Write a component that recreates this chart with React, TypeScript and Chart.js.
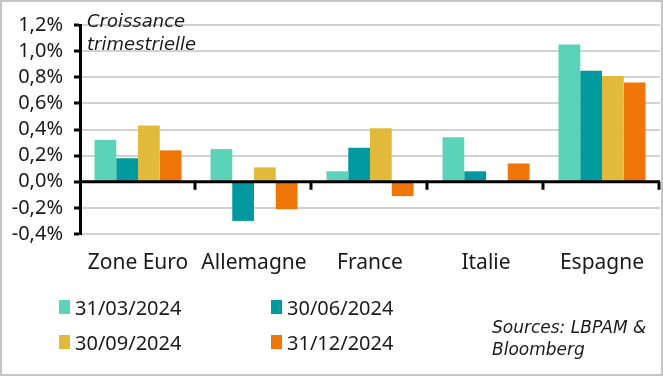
import React, { useEffect, useRef } from "react";
import { Chart, registerables } from "chart.js";

Chart.register(...registerables);

const categories = ["Zone Euro", "Allemagne", "France", "Italie", "Espagne"];
const seriesLabels = ["31/03/2024", "30/06/2024", "30/09/2024", "31/12/2024"];
const q1Values = [0.32, 0.25, 0.08, 0.34, 1.05];
const q2Values = [0.18, -0.3, 0.26, 0.08, 0.85];
const q3Values = [0.43, 0.11, 0.41, 0.01, 0.81];
const q4Values = [0.24, -0.21, -0.11, 0.14, 0.76];
const seriesColors = ["#5BD3B9", "#00999F", "#E1BA3C", "#F07507"];
const yMin = -0.4;
const yMax = 1.2;
const yStep = 0.2;
const titleLines = ["Croissance", "trimestrielle"];
const sourceLines = ["Sources: LBPAM &", "Bloomberg"];

const FONT = "'Noto Sans', 'DejaVu Sans', sans-serif";
const ITALIC_FONT = "'DejaVu Sans', 'Noto Sans', sans-serif";

const axisPlugin = {
  id: "zeroTicks",
  afterDatasetsDraw(chart: any) {
    const x = chart.scales.x;
    const y = chart.scales.y;
    const ctx = chart.ctx;
    const y0 = y.getPixelForValue(0);
    const n = categories.length;
    const w = (x.right - x.left) / n;
    ctx.save();
    ctx.strokeStyle = "#000";
    ctx.lineWidth = 3;
    ctx.beginPath();
    ctx.moveTo(x.left, y0);
    ctx.lineTo(x.right, y0);
    ctx.stroke();
    for (let i = 1; i <= n; i++) {
      const px = Math.round(x.left + i * w) - 1;
      ctx.beginPath();
      ctx.moveTo(px, y0);
      ctx.lineTo(px, y0 + 8);
      ctx.stroke();
    }
    ctx.restore();
  },
};

export default function App() {
  const ref = useRef<HTMLCanvasElement | null>(null);

  useEffect(() => {
    if (!ref.current) return;
    const values = [q1Values, q2Values, q3Values, q4Values];
    const chart = new Chart(ref.current, {
      type: "bar",
      data: {
        labels: categories,
        datasets: seriesLabels.map((label, i) => ({
          label,
          data: values[i],
          backgroundColor: seriesColors[i],
          borderWidth: 0,
          barPercentage: 1,
          categoryPercentage: 0.75,
        })),
      },
      options: {
        animation: false,
        responsive: false,
        maintainAspectRatio: false,
        layout: { padding: { left: 0, right: 3, top: 25, bottom: 92 } },
        plugins: {
          legend: { display: false },
          tooltip: { enabled: false },
        },
        scales: {
          x: {
            grid: { display: false, drawTicks: false },
            border: { display: false },
            ticks: {
              color: "#1a1a1a",
              font: { family: FONT, size: 21 },
              padding: 16,
              maxRotation: 0,
              autoSkip: false,
            },
            afterFit: (s: any) => {
              s.height = 50;
            },
          },
          y: {
            min: yMin,
            max: yMax,
            border: { display: true, color: "#000", width: 3 },
            grid: {
              color: "#d2d2d2",
              lineWidth: 2,
              drawTicks: true,
              tickLength: 6,
              tickColor: "#000",
              tickWidth: 3,
            },
            ticks: {
              stepSize: yStep,
              autoSkip: false,
              color: "#1a1a1a",
              font: { family: FONT, size: 20 },
              padding: 11,
              callback: (v: any) => {
                const r = Math.round(Number(v) * 10) / 10;
                return r.toFixed(1).replace(".", ",") + "%";
              },
            },
            afterFit: (s: any) => {
              s.width = 80;
            },
          },
        },
      },
      plugins: [axisPlugin],
    });
    return () => chart.destroy();
  }, []);

  const legendPos = [
    { left: 59, top: 307 },
    { left: 271, top: 307 },
    { left: 59, top: 342 },
    { left: 271, top: 342 },
  ];

  return (
    <div
      style={{
        position: "fixed",
        left: 0,
        top: 0,
        width: 663,
        height: 376,
        background: "#fff",
        overflow: "hidden",
      }}
    >
      <canvas
        ref={ref}
        width={663}
        height={376}
        style={{ position: "absolute", left: 0, top: 0, width: 663, height: 376 }}
      />
      <div
        style={{
          position: "absolute",
          left: 87,
          top: 9,
          fontFamily: ITALIC_FONT,
          fontStyle: "italic",
          fontSize: 18,
          lineHeight: "23px",
          color: "#1a1a1a",
        }}
      >
        {titleLines.map((t) => (
          <div key={t}>{t}</div>
        ))}
      </div>
      {seriesLabels.map((label, i) => (
        <div
          key={label}
          style={{
            position: "absolute",
            left: legendPos[i].left,
            top: legendPos[i].top - 14,
            height: 28,
            display: "flex",
            alignItems: "center",
            fontFamily: FONT,
            fontSize: 20,
            color: "#1a1a1a",
          }}
        >
          <span
            style={{
              display: "inline-block",
              width: 11,
              height: 14,
              background: seriesColors[i],
              marginRight: 5,
            }}
          />
          <span>{label}</span>
        </div>
      ))}
      <div
        style={{
          position: "absolute",
          left: 492,
          top: 316,
          fontFamily: ITALIC_FONT,
          fontStyle: "italic",
          fontSize: 17,
          lineHeight: "22px",
          color: "#1a1a1a",
        }}
      >
        {sourceLines.map((t) => (
          <div key={t}>{t}</div>
        ))}
      </div>
      <div
        style={{
          position: "absolute",
          left: 0,
          top: 0,
          width: 663,
          height: 376,
          boxSizing: "border-box",
          border: "2px solid #c4c4c4",
          pointerEvents: "none",
        }}
      />
    </div>
  );
}
